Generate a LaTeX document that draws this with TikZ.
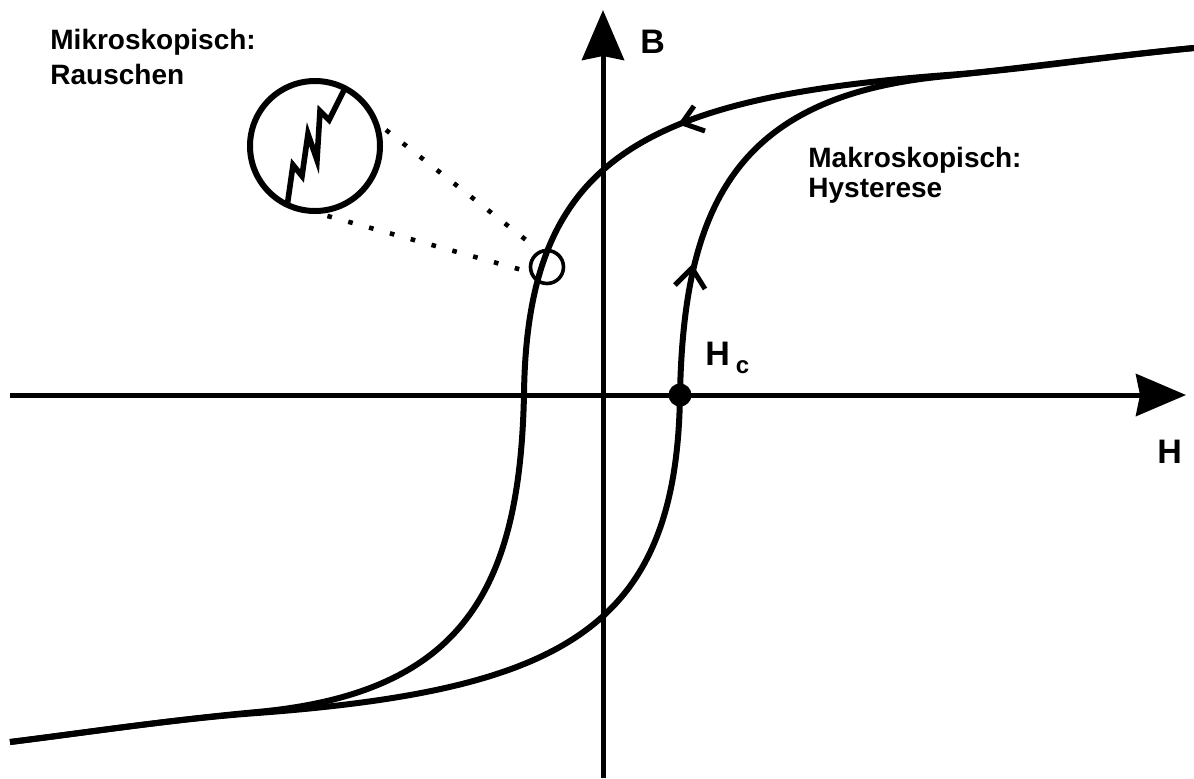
\documentclass[tikz,border=0pt]{standalone}
\usepackage{fontspec}
\setmainfont{Liberation Sans}
\usetikzlibrary{arrows.meta}

\begin{document}
\begin{tikzpicture}[
x=0.5pt, y=-0.5pt,
axis/.style={line width=2.5pt, -{Stealth[length=25pt, width=21pt, inset=2pt]}},
branch/.style={line width=3pt},
chev/.style={line width=2.5pt, line join=miter},
dots/.style={line width=2.3pt, dash pattern=on 2.3pt off 8.5pt, shorten <=4pt, shorten >=4pt},
lbl/.style={font=\bfseries\fontsize{14}{17.5}\selectfont, align=left, inner sep=0pt},
axlbl/.style={font=\bfseries\fontsize{17}{20}\selectfont, inner sep=0pt},
ring/.style={circle, draw, inner sep=0pt}
]
\useasboundingbox (0,0) rectangle (1194,778);

% axes
\draw[axis] (10,395) -- (1186,395);
\draw[axis] (603,778) -- (603,10);
\node[axlbl, anchor=base west] (Blbl) at (640,53) {B};
\node[axlbl, anchor=base west] (Hlbl) at (1157,463) {H};

% hysteresis loop: falling branch
\draw[branch] (1194,48) .. controls (1110,56) and (1030,69) .. (947,75)
  .. controls (640,98) and (527,160) .. (524,394)
  .. controls (520,588) and (464,693) .. (257,712)
  .. controls (170,720) and (90,732) .. (10,742);
% rising branch
\draw[branch] (10,742) .. controls (90,732) and (174,719) .. (257,713)
  .. controls (564,690) and (677,628) .. (680,394)
  .. controls (684,200) and (740,95) .. (947,76)
  .. controls (1030,67) and (1110,56) .. (1194,48);
\draw[chev] (694,106) -- (682,123) -- (705,131);
\draw[chev] (675,285) -- (692,268) -- (705,289);

\node[circle, fill, minimum size=11.5pt, inner sep=0pt] (hc) at (680,395) {};
\node[axlbl, anchor=base west] (hclbl) at (705,365) {H\hspace{3pt}\raisebox{-4pt}{\fontsize{12}{12}\selectfont c}};

% noise inset
\node[ring, line width=1.8pt, minimum size=16.5pt] (spot) at (547,267) {};
\node[ring, line width=3pt, minimum size=65pt] (zoom) at (315,146) {};
\draw[chev, line width=2.8pt] (287,207) -- (293,165) -- (302,176) -- (308,134) -- (317,160) -- (320,111) -- (329,120) -- (345,88);
\draw[dots] (zoom.18) -- (spot.115);
\draw[dots] (zoom.-86) -- (spot.196);

\node[lbl, anchor=north west] (micro) at (50,29) {Mikroskopisch:\\Rauschen};
\node[lbl, anchor=north west, font=\bfseries\fontsize{14}{15}\selectfont] (macro) at (808,147) {Makroskopisch:\\Hysterese};
\end{tikzpicture}
\end{document}
